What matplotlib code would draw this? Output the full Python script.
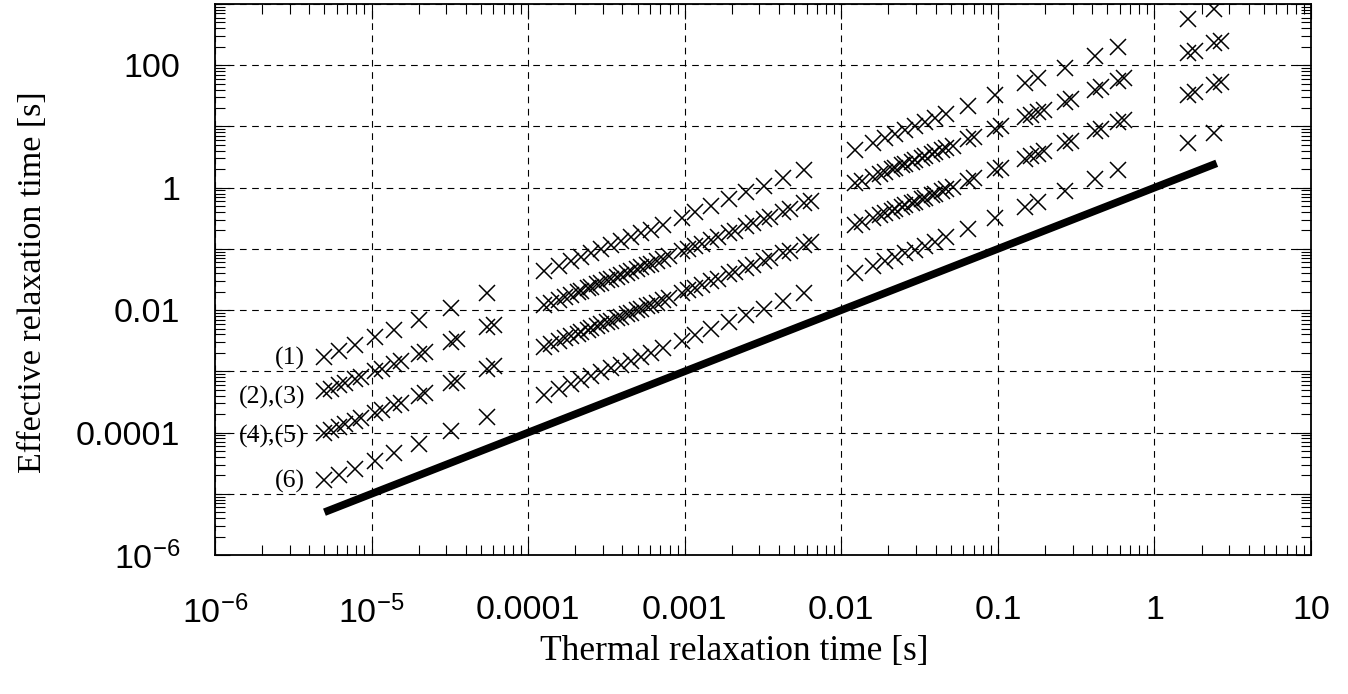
import matplotlib
matplotlib.use("Agg")
import matplotlib.pyplot as plt
import numpy as np
from matplotlib.ticker import LogLocator, NullFormatter, FixedLocator, FixedFormatter

plt.rcParams["font.family"] = ["Liberation Sans", "DejaVu Sans"]
plt.rcParams["mathtext.default"] = "regular"

# thermal relaxation time [s] (x) for series (1), (2), (4), (6)
thermal = [5.0e-6, 6.2e-6, 7.8e-6, 1.05e-5, 1.4e-5, 2.0e-5, 3.2e-5, 5.5e-5,
           1.26e-4, 1.57e-4, 1.88e-4, 2.18e-4, 2.52e-4, 2.92e-4, 3.38e-4, 3.91e-4,
           4.53e-4, 5.25e-4, 6.07e-4, 7.24e-4, 9.57e-4, 1.17e-3, 1.47e-3, 1.91e-3,
           2.48e-3, 3.19e-3, 4.27e-3, 5.81e-3,
           0.0123, 0.0160, 0.0191, 0.0221, 0.0256, 0.0296, 0.0343, 0.0397, 0.0467,
           0.0644, 0.0957, 0.149, 0.180, 0.267, 0.415, 0.581,
           1.65, 2.41]

# thermal relaxation time for the overlapping series (3) and (5)
thermal_b = [5.5e-6, 6.8e-6, 8.6e-6, 1.16e-5, 1.54e-5, 2.2e-5, 3.5e-5, 6.05e-5,
             1.39e-4, 1.73e-4, 2.07e-4, 2.4e-4, 2.77e-4, 3.21e-4, 3.72e-4, 4.3e-4,
             4.98e-4, 5.78e-4, 6.68e-4, 7.96e-4, 1.05e-3, 1.29e-3, 1.62e-3, 2.1e-3,
             2.73e-3, 3.51e-3, 4.7e-3, 6.39e-3,
             0.0135, 0.0176, 0.021, 0.0243, 0.0282, 0.0326, 0.0377, 0.0437, 0.0514,
             0.0708, 0.105, 0.164, 0.198, 0.294, 0.457, 0.639,
             1.82, 2.65]

# effective relaxation time [s]
eff_1 = [1.7e-3, 2.11e-3, 2.65e-3, 3.57e-3, 4.76e-3, 6.8e-3, 1.09e-2, 1.87e-2,
         4.28e-2, 5.34e-2, 6.39e-2, 7.41e-2, 8.57e-2, 9.93e-2, 0.115, 0.133,
         0.154, 0.179, 0.206, 0.246, 0.325, 0.398, 0.5, 0.649,
         0.843, 1.08, 1.45, 1.98,
         4.18, 5.44, 6.49, 7.51, 8.7, 10.1, 11.7, 13.5, 15.9,
         21.9, 32.5, 50.7, 61.2, 90.8, 141, 198,
         561, 819]

eff_2 = [4.75e-4, 5.89e-4, 7.41e-4, 9.98e-4, 1.33e-3, 1.9e-3, 3.04e-3, 5.23e-3,
         1.2e-2, 1.49e-2, 1.79e-2, 2.07e-2, 2.39e-2, 2.77e-2, 3.21e-2, 3.71e-2,
         4.3e-2, 4.99e-2, 5.77e-2, 6.88e-2, 9.09e-2, 0.111, 0.14, 0.181,
         0.236, 0.303, 0.406, 0.552,
         1.17, 1.52, 1.81, 2.1, 2.43, 2.81, 3.26, 3.77, 4.44,
         6.12, 9.09, 14.2, 17.1, 25.4, 39.4, 55.2,
         157, 229]

eff_3 = [5.2e-4, 6.5e-4, 8.2e-4, 1.1e-3, 1.46e-3, 2.09e-3, 3.34e-3, 5.75e-3,
         1.32e-2, 1.64e-2, 1.97e-2, 2.28e-2, 2.63e-2, 3.05e-2, 3.53e-2, 4.08e-2,
         4.73e-2, 5.49e-2, 6.35e-2, 7.57e-2, 0.1, 0.122, 0.154, 0.199,
         0.26, 0.333, 0.447, 0.607,
         1.29, 1.67, 1.99, 2.31, 2.67, 3.09, 3.59, 4.15, 4.88,
         6.73, 10.0, 15.6, 18.8, 27.9, 43.3, 60.7,
         173, 252]

eff_4 = [1.0e-4, 1.24e-4, 1.56e-4, 2.1e-4, 2.8e-4, 4.0e-4, 6.4e-4, 1.1e-3,
         2.52e-3, 3.14e-3, 3.76e-3, 4.36e-3, 5.04e-3, 5.84e-3, 6.76e-3, 7.82e-3,
         9.06e-3, 1.05e-2, 1.21e-2, 1.45e-2, 1.91e-2, 2.34e-2, 2.94e-2, 3.82e-2,
         4.96e-2, 6.38e-2, 8.54e-2, 0.116,
         0.246, 0.32, 0.382, 0.442, 0.512, 0.592, 0.686, 0.794, 0.934,
         1.29, 1.91, 2.98, 3.6, 5.34, 8.3, 11.6,
         33, 48.2]

eff_5 = [1.1e-4, 1.36e-4, 1.72e-4, 2.31e-4, 3.08e-4, 4.4e-4, 7.04e-4, 1.21e-3,
         2.77e-3, 3.45e-3, 4.14e-3, 4.8e-3, 5.54e-3, 6.42e-3, 7.44e-3, 8.6e-3,
         9.97e-3, 1.16e-2, 1.33e-2, 1.6e-2, 2.1e-2, 2.57e-2, 3.23e-2, 4.2e-2,
         5.46e-2, 7.02e-2, 9.39e-2, 0.128,
         0.271, 0.352, 0.42, 0.486, 0.563, 0.651, 0.755, 0.873, 1.03,
         1.42, 2.1, 3.28, 3.96, 5.87, 9.13, 12.8,
         36.3, 53.0]

eff_6 = [1.65e-5, 2.05e-5, 2.57e-5, 3.47e-5, 4.62e-5, 6.6e-5, 1.06e-4, 1.82e-4,
         4.16e-4, 5.18e-4, 6.2e-4, 7.19e-4, 8.32e-4, 9.64e-4, 1.12e-3, 1.29e-3,
         1.49e-3, 1.73e-3, 2.0e-3, 2.39e-3, 3.16e-3, 3.86e-3, 4.85e-3, 6.3e-3,
         8.18e-3, 1.05e-2, 1.41e-2, 1.92e-2,
         4.06e-2, 5.28e-2, 6.3e-2, 7.29e-2, 8.45e-2, 9.77e-2, 0.113, 0.131, 0.154,
         0.213, 0.316, 0.492, 0.594, 0.881, 1.37, 1.92,
         5.45, 7.95]

# reference line (effective = thermal)
line_thermal = [5e-6, 2.5]
line_eff = [5e-6, 2.5]

series_tags = ["(1)", "(2),(3)", "(4),(5)", "(6)"]

x_ticks = [1e-6, 1e-5, 1e-4, 1e-3, 1e-2, 1e-1, 1, 10]
x_tick_labels = ["$10^{-6}$", "$10^{-5}$", "0.0001", "0.001", "0.01", "0.1", "1", "10"]
y_ticks = [1e-6, 1e-5, 1e-4, 1e-3, 1e-2, 1e-1, 1, 10, 100, 1000]
y_tick_labels = ["$10^{-6}$", "", "0.0001", "", "0.01", "", "1", "", "100", ""]

fig = plt.figure(figsize=(13.48, 6.94), dpi=100)
ax = fig.add_axes([215 / 1348, 1 - 555 / 694, 1096 / 1348, 551 / 694])
ax.set_xscale("log")
ax.set_yscale("log")
ax.set_xlim(1e-6, 10)
ax.set_ylim(1e-6, 1000)

mk = dict(marker="x", linestyle="none", color="black", markersize=11, markeredgewidth=1.1)
ax.plot(thermal, eff_1, **mk)
ax.plot(thermal, eff_2, **mk)
ax.plot(thermal_b, eff_3, **mk)
ax.plot(thermal, eff_4, **mk)
ax.plot(thermal_b, eff_5, **mk)
ax.plot(thermal, eff_6, **mk)
ax.plot(line_thermal, line_eff, color="black", linewidth=5.5, solid_capstyle="butt")

# series tags at the left of group A
serif = ["Liberation Serif", "DejaVu Serif"]
for tag, yv in zip(series_tags, [1.6e-3, 3.7e-4, 8.5e-5, 1.6e-5]):
    ax.text(3.75e-6, yv, tag, ha="right", va="center", fontsize=18.5, family=serif)

ax.xaxis.set_major_locator(FixedLocator(x_ticks))
ax.xaxis.set_major_formatter(FixedFormatter(x_tick_labels))
ax.yaxis.set_major_locator(FixedLocator(y_ticks))
ax.yaxis.set_major_formatter(FixedFormatter(y_tick_labels))
for a in (ax.xaxis, ax.yaxis):
    a.set_minor_locator(LogLocator(base=10, subs=np.arange(2, 10), numticks=100))
    a.set_minor_formatter(NullFormatter())

ax.tick_params(which="both", direction="in", top=True, right=True, width=0.8, color="black")
ax.tick_params(which="major", length=11)
ax.tick_params(which="minor", length=7)
ax.tick_params(axis="x", which="major", labelsize=24.5, pad=29)
ax.tick_params(axis="y", which="major", labelsize=24.5, pad=25)

ax.grid(True, which="major", color="black", linestyle=(0, (6, 5)), linewidth=0.8)
for sp in ax.spines.values():
    sp.set_linewidth(1.3)

ax.set_xlabel("Thermal relaxation time [s]", fontsize=25.5, family=serif)
ax.set_ylabel("Effective relaxation time [s]", fontsize=24.5, family=serif)
ax.xaxis.set_label_coords(0.474, -0.145)
ax.yaxis.set_label_coords(-0.152, 0.495)

plt.savefig("out.png", dpi=100)
